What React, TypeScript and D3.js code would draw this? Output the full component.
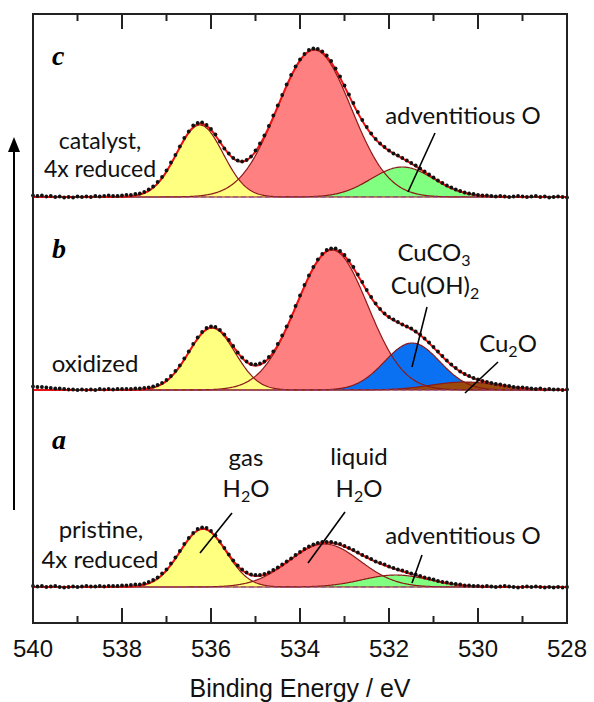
import React from "react";
import * as d3 from "d3";

const width = 594, height = 702;
const margin = { top: 14, right: 27, bottom: 79, left: 33 };

// energy grid of the measured spectra (eV), 0.1 eV steps from 540 down to 528
const energies = d3.range(121).map((i) => +(540 - i * 0.1).toFixed(1));

// measured O 1s intensities (arb. units), panel a: pristine, 4x reduced
const countsA = [
  0.5, 0, 0.5, -0.5, 0, 0.5, -0.5, -1, -0.5, 0,
  -0.5, 0, 0.5, 0, 0, 0.5, 0, 0.5, 0.5, 0.5,
  1, 1, 1.5, 2, 2, 3, 4.5, 6.5, 9, 13,
  17, 23, 29, 35.5, 42.5, 48.5, 53.5, 57.5, 59, 58.5,
  55.5, 51, 45, 38.5, 32, 26, 21, 17, 14, 12,
  11.5, 11.5, 12.5, 14, 16.5, 19, 22, 25, 28, 31.5,
  34.5, 37.5, 40, 42, 43.5, 44.5, 44.5, 44.5, 43.5, 42.5,
  40.5, 38.5, 36.5, 34, 31.5, 29.5, 27.5, 25, 23.5, 22,
  20, 18.5, 17, 16, 14.5, 13, 12, 10.5, 9, 8,
  7, 5.5, 4.5, 4, 3, 2.5, 2, 1, 1, 0.5,
  0.5, 0, 0.5, 0, -0.5, 0, 0.5, 0, -0.5, -1,
  -0.5, 0, -0.5, 0, -0.5, -1, -0.5, -1, -0.5, -1,
  -0.5,
];

// panel b: oxidized
const countsB = [
  3, 2.5, 2.5, 2, 1.5, 1, 1, 0.5, 0, 0,
  -0.5, 0, -0.5, 0, -0.5, 0.5, 0, 0.5, 0, 0.5,
  0.5, 0.5, 0.5, 1, 1, 1.5, 2, 3, 4.5, 6.5,
  9.5, 13.5, 18.5, 24, 31, 38, 45.5, 52, 57.5, 61.5,
  63, 62.5, 59.5, 55, 49.5, 43.5, 37, 32, 28, 25.5,
  25, 26, 28, 32.5, 38, 45.5, 54, 63, 73, 83.5,
  94, 104.5, 114, 122.5, 130, 135.5, 139.5, 141, 141, 138.5,
  134.5, 129, 122.5, 115, 107.5, 99.5, 92.5, 86, 80.5, 76,
  72.5, 70, 67.5, 65, 63, 61, 58, 55, 51, 47,
  42.5, 38, 33.5, 29, 25, 21.5, 18, 15.5, 13.5, 11.5,
  10, 8.5, 7.5, 6.5, 5.5, 5, 4, 3.5, 2.5, 2,
  2, 1.5, 1, 0.5, 1, 0, 0.5, 0, 0, -0.5,
  0,
];

// panel c: catalyst, 4x reduced
const countsC = [
  1, 0.5, 1, 0, 0.5, -0.5, 0, -1, -0.5, -1,
  0, -0.5, 0, -0.5, 0.5, 0, 0.5, 1, 0.5, 0.5,
  1, 1.5, 1.5, 2.5, 3, 4.5, 7, 10, 14.5, 19.5,
  26, 34, 41.5, 50, 58.5, 65, 71, 73.5, 74, 71.5,
  67.5, 62, 55, 48, 43, 38.5, 36, 35, 36.5, 40,
  46, 53, 61, 70.5, 81, 91, 101.5, 112, 121.5, 130,
  137, 142.5, 146.5, 148, 147.5, 145, 141, 135.5, 128, 120,
  111, 102, 93.5, 84.5, 76.5, 69.5, 63, 57.5, 53, 49.5,
  46, 43, 41, 38.5, 36, 33.5, 31, 28, 25, 22,
  19, 16, 13.5, 11, 9, 7, 5.5, 4, 3, 2.5,
  1.5, 1, 1, 0.5, 0, 0.5, 0, -0.5, 0, 0.5,
  0, -0.5, 0, 0.5, -0.5, 0, -1, -0.5, 0, -0.5,
  -1,
];

// fitted components: species, centre (eV), height, gaussian sigma (eV)
const speciesA = ["liquid", "gas", "adventitious"];
const centersA = [533.45, 536.18, 531.85];
const heightsA = [43, 58, 12];
const sigmasA = [0.8, 0.52, 0.75];

const speciesB = ["liquid", "gas", "hydroxide", "cu2o"];
const centersB = [533.28, 535.98, 531.48, 530.3];
const heightsB = [140, 62, 47, 8];
const sigmasB = [0.8, 0.52, 0.62, 0.75];

const speciesC = ["liquid", "gas", "adventitious"];
const centersC = [533.68, 536.25, 531.7];
const heightsC = [147, 72, 30];
const sigmasC = [0.83, 0.52, 0.7];

// vertical stacking of the three spectra
const stackOffsets = [0, 197, 390];

const majorTicks = [540, 538, 536, 534, 532, 530, 528];
const minorTicks = [539, 537, 535, 533, 531, 529];

const speciesColor: Record<string, string> = {
  liquid: "#ff8080",
  gas: "#ffff80",
  adventitious: "#80ff80",
  hydroxide: "#0a72f2",
  cu2o: "#9a4a0c",
};

const xScale = d3.scaleLinear().domain([540, 528]).range([margin.left, width - margin.right]);
const yScale = d3.scaleLinear().domain([-36, 573]).range([height - margin.bottom, margin.top]);

const modelGrid = d3.range(601).map((i) => 540 - i * 0.02);

const gauss = (e: number, c: number, h: number, s: number) =>
  h * Math.exp(-((e - c) * (e - c)) / (2 * s * s));

const panels = [
  { counts: countsA, species: speciesA, centers: centersA, heights: heightsA, sigmas: sigmasA, offset: stackOffsets[0] },
  { counts: countsB, species: speciesB, centers: centersB, heights: heightsB, sigmas: sigmasB, offset: stackOffsets[1] },
  { counts: countsC, species: speciesC, centers: centersC, heights: heightsC, sigmas: sigmasC, offset: stackOffsets[2] },
];

const sans = "Lato, 'Open Sans', sans-serif";
const arial = "'Liberation Sans', Arial, sans-serif";
const serif = "'Liberation Serif', 'Times New Roman', serif";

function Sub({ base, sub, tail }: { base: string; sub: string; tail?: string }) {
  return (
    <>
      <tspan>{base}</tspan>
      <tspan dy={5} fontSize={16}>{sub}</tspan>
      <tspan dy={-5}>{tail || ""}</tspan>
    </>
  );
}

function Panel({ p }: { p: typeof panels[number] }) {
  const base = yScale(p.offset);
  const comps = p.centers.map((c, i) =>
    modelGrid.map((e) => ({ e, v: gauss(e, c, p.heights[i], p.sigmas[i]) }))
  );
  const fit = modelGrid.map((e, k) => ({ e, v: d3.sum(comps, (cp) => cp[k].v) }));
  const area = d3
    .area<{ e: number; v: number }>()
    .x((d) => xScale(d.e))
    .y0(base)
    .y1((d) => yScale(p.offset + d.v));
  const line = d3
    .line<{ e: number; v: number }>()
    .x((d) => xScale(d.e))
    .y((d) => yScale(p.offset + d.v));
  return (
    <g>
      {comps.map((cp, i) => (
        <path key={"a" + i} d={area(cp) || ""} fill={speciesColor[p.species[i]]} stroke="none" />
      ))}
      {comps.map((cp, i) => (
        <path key={"l" + i} d={line(cp) || ""} fill="none" stroke="#8b1a1a" strokeWidth={1.2} />
      ))}
      <line x1={xScale(540)} x2={xScale(528)} y1={base} y2={base}
        stroke="#8e4a82" strokeWidth={1.2} strokeDasharray="5 3" />
      <path d={line(fit) || ""} fill="none" stroke="#ee1111" strokeWidth={2} />
      {p.counts.map((v, i) => (
        <circle key={"d" + i} cx={xScale(energies[i])} cy={yScale(p.offset + v) - 0.5} r={1.9} fill="#111" />
      ))}
    </g>
  );
}

export default function App() {
  const y0 = height - margin.bottom;
  return (
    <svg width={width} height={height} style={{ position: "absolute", left: 0, top: 0, background: "#fff" }}>
      {panels.map((p, i) => <Panel key={i} p={p} />)}

      {/* frame and inward ticks */}
      <rect x={margin.left} y={margin.top} width={width - margin.left - margin.right}
        height={height - margin.top - margin.bottom} fill="none" stroke="#222" strokeWidth={2} />
      {majorTicks.map((t) => (
        <g key={"M" + t}>
          <line x1={xScale(t)} x2={xScale(t)} y1={y0} y2={y0 - 15} stroke="#222" strokeWidth={2} />
          <line x1={xScale(t)} x2={xScale(t)} y1={margin.top} y2={margin.top + 15} stroke="#222" strokeWidth={2} />
          <text x={xScale(t)} y={657} textAnchor="middle" fontFamily={arial} fontSize={24} fill="#111">{t}</text>
        </g>
      ))}
      {minorTicks.map((t) => (
        <g key={"m" + t}>
          <line x1={xScale(t)} x2={xScale(t)} y1={y0} y2={y0 - 7} stroke="#222" strokeWidth={2} />
          <line x1={xScale(t)} x2={xScale(t)} y1={margin.top} y2={margin.top + 7} stroke="#222" strokeWidth={2} />
        </g>
      ))}
      <text x={(margin.left + width - margin.right) / 2} y={697} textAnchor="middle"
        fontFamily={arial} fontSize={25} fill="#111">Binding Energy / eV</text>

      {/* intensity arrow */}
      <line x1={14} x2={14} y1={148} y2={510} stroke="#000" strokeWidth={2} />
      <polygon points="14,137 8,152 20,152" fill="#000" />

      {/* panel letters */}
      <g fontFamily={serif} fontWeight="bold" fontStyle="italic" fontSize={28} fill="#000">
        <text x={52} y={65}>c</text>
        <text x={52} y={258}>b</text>
        <text x={52} y={449}>a</text>
      </g>

      {/* annotations */}
      <g fontFamily={sans} fontSize={24} fill="#111" textAnchor="middle">
        <text x={100} y={149} fontSize={23}>catalyst,</text>
        <text x={100} y={177} fontSize={23}>4x reduced</text>
        <text x={463} y={124}>adventitious O</text>

        <text x={95} y={372}>oxidized</text>
        <text x={434} y={261}><Sub base="CuCO" sub="3" /></text>
        <text x={435} y={294}><Sub base="Cu(OH)" sub="2" /></text>
        <text x={508} y={352}><Sub base="Cu" sub="2" tail="O" /></text>

        <text x={101} y={538}>pristine,</text>
        <text x={100} y={568}>4x reduced</text>
        <text x={246} y={466}>gas</text>
        <text x={246} y={497}><Sub base="H" sub="2" tail="O" /></text>
        <text x={359} y={465}>liquid</text>
        <text x={359} y={497}><Sub base="H" sub="2" tail="O" /></text>
        <text x={463} y={544}>adventitious O</text>
      </g>
      <g stroke="#000" strokeWidth={1.6}>
        <line x1={435} y1={133} x2={408} y2={192} />
        <line x1={427} y1={307} x2={412} y2={367} />
        <line x1={498} y1={362} x2={465} y2={393} />
        <line x1={232} y1={513} x2={200} y2={553} />
        <line x1={345} y1={512} x2={308} y2={563} />
        <line x1={422} y1={555} x2={412} y2={583} />
      </g>
    </svg>
  );
}
